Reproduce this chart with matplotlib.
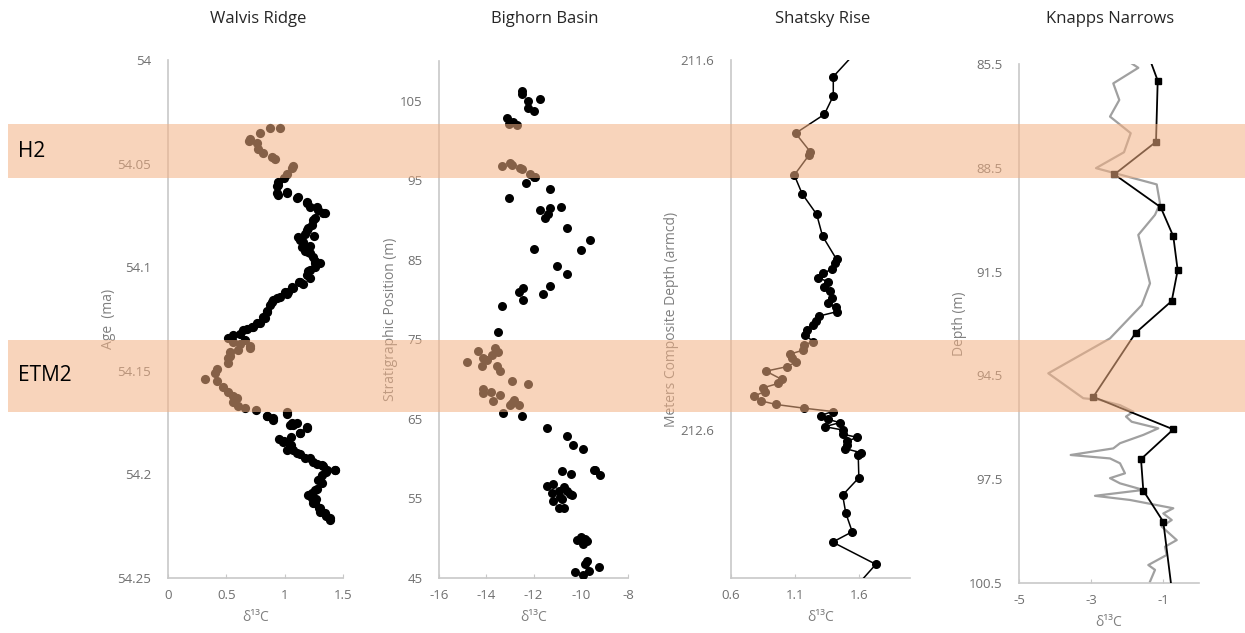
import numpy as np
import matplotlib
matplotlib.use("Agg")
import matplotlib.pyplot as plt
from matplotlib.patches import Rectangle
from matplotlib.ticker import FuncFormatter
from matplotlib.transforms import blended_transform_factory

plt.rcParams['font.family'] = ['Open Sans', 'DejaVu Sans']

# ---- data ----
walvis_d13c = [0.96, 0.87, 0.79, 0.70, 0.69, 0.76, 0.77, 0.81, 0.89, 0.92, 1.07, 1.06, 1.02, 0.99, 0.94,
               0.93, 0.93, 1.02, 1.11, 1.19, 1.28, 1.33, 1.24, 1.20, 1.17, 1.13, 1.22, 1.22, 1.26, 1.26,
               1.22, 1.16, 1.07, 1.02, 0.93, 0.89, 0.85, 0.81, 0.79, 0.73, 0.68, 0.62, 0.53, 0.56, 0.62,
               0.70, 0.60, 0.53, 0.51,
               0.66, 0.70, 0.53, 0.51, 0.42, 0.40, 0.32, 0.42, 0.47, 0.51, 0.56, 0.59, 0.56, 0.60, 0.66,
               0.75, 0.85, 0.90, 1.02, 1.06, 1.07, 1.19, 1.13, 1.05, 0.99, 1.05, 1.07, 1.13, 1.22, 1.28,
               1.33, 1.43, 1.35, 1.30, 1.32, 1.28, 1.23, 1.23, 1.24, 1.29, 1.30, 1.35, 1.39,
               1.17, 1.25, 1.30, 1.20, 1.12, 1.00, 0.95, 1.20, 1.27,
               0.945, 1.017, 0.945, 1.103, 1.189, 1.217, 1.288, 1.345, 1.260, 1.231, 1.189, 1.117,
               1.159, 1.146, 1.202, 1.245, 1.260, 1.217, 1.189, 1.131, 1.060, 1.031, 0.960, 0.902,
               0.874, 0.846, 0.831, 0.760, 0.717, 0.645, 0.560, 0.517,
               0.846, 0.902, 1.017, 1.045, 1.103, 1.189, 1.131, 0.988, 1.045, 1.017, 1.103, 1.174,
               1.245, 1.317, 1.360, 1.431, 1.288, 1.317, 1.260, 1.231, 1.260, 1.302, 1.345, 1.388]
walvis_age = [54.033, 54.033, 54.035, 54.038, 54.039, 54.040, 54.043, 54.045, 54.047, 54.048, 54.051,
              54.052, 54.055, 54.057, 54.059, 54.061, 54.064, 54.064, 54.066, 54.069, 54.071, 54.074,
              54.077, 54.081, 54.084, 54.087, 54.090, 54.093, 54.097, 54.100, 54.105, 54.108, 54.110,
              54.113, 54.115, 54.117, 54.121, 54.124, 54.127, 54.129, 54.130, 54.132, 54.134, 54.136,
              54.137, 54.138, 54.140, 54.141, 54.144,
              54.135, 54.139, 54.143, 54.146, 54.149, 54.151, 54.154, 54.155, 54.158, 54.160, 54.162,
              54.163, 54.165, 54.167, 54.168, 54.169, 54.172, 54.173, 54.170, 54.175, 54.176, 54.177,
              54.180, 54.182, 54.184, 54.186, 54.188, 54.190, 54.192, 54.195, 54.196, 54.198, 54.199,
              54.202, 54.204, 54.207, 54.209, 54.211, 54.214, 54.216, 54.218, 54.220, 54.222,
              54.092, 54.085, 54.098, 54.102, 54.107, 54.112, 54.183, 54.210, 54.212,
              54.0603, 54.0636, 54.0652, 54.0667, 54.0684, 54.0708, 54.0724, 54.0740, 54.0764,
              54.0796, 54.0820, 54.0853, 54.0877, 54.0901, 54.0925, 54.0949, 54.0981, 54.1014,
              54.1038, 54.1070, 54.1094, 54.1118, 54.1142, 54.1158, 54.1182, 54.1215, 54.1247,
              54.1271, 54.1287, 54.1303, 54.1327, 54.1343,
              54.1718, 54.1737, 54.1708, 54.1762, 54.1753, 54.1778, 54.1802, 54.1842, 54.1858,
              54.1882, 54.1898, 54.1922, 54.1939, 54.1955, 54.1979, 54.1979, 54.2027, 54.2003,
              54.2075, 54.2115, 54.2139, 54.2163, 54.2188, 54.2212]

bighorn_d13c = [-12.50, -12.47, -11.72, -12.22, -12.22, -12.00, -13.13, -12.85, -13.02, -12.71,
                -13.34, -12.99, -12.92, -12.57, -12.50, -12.14, -11.93, -12.00, -12.31, -11.30,
                -13.02, -11.72, -11.30, -11.51, -11.39, -10.83, -10.59, -9.60, -10.00, -12.00,
                -11.01, -10.59, -11.30, -12.43, -12.60, -11.61, -12.43, -13.32, -13.51,
                -14.33, -13.63, -13.49, -13.77, -14.12, -13.98, -14.83, -14.19, -13.53, -13.42,
                -12.92, -12.22, -14.12, -14.12, -13.81, -13.42, -13.70, -12.81, -12.92, -12.60,
                -12.99, -13.30, -12.50, -11.41, -10.59, -10.31, -9.89, -9.39, -9.18, -9.46,
                -10.80, -10.41, -11.44, -11.18, -11.22, -10.94, -10.73, -10.59, -10.45, -10.38,
                -10.87, -11.16, -10.80, -10.90, -10.70, -10.17, -10.00, -9.82, -9.91, -9.74,
                -9.72, -9.81, -9.21, -10.24, -9.67, -9.91]
bighorn_pos = [106.2, 105.9, 105.2, 105.0, 104.1, 103.7, 102.8, 102.3, 102.1, 102.0,
               96.8, 97.2, 96.9, 96.6, 96.4, 95.8, 95.4, 95.4, 94.7, 93.9,
               92.8, 91.3, 91.5, 90.3, 90.8, 91.7, 89.0, 87.5, 86.2, 86.4,
               84.2, 83.2, 81.7, 81.4, 80.9, 80.7, 80.0, 79.2, 75.9,
               73.6, 73.9, 73.4, 73.0, 72.7, 72.4, 72.2, 71.7, 71.6, 71.0,
               69.8, 69.4, 68.7, 68.2, 68.4, 68.0, 67.2, 67.4, 67.0, 66.7,
               66.7, 65.7, 65.4, 63.9, 62.8, 61.7, 61.2, 58.6, 57.9, 58.6,
               58.4, 58.1, 56.6, 56.8, 55.7, 56.0, 56.5, 56.0, 55.6, 55.4,
               55.2, 54.7, 54.9, 53.8, 53.8, 49.8, 50.1, 49.9, 49.3, 49.6,
               47.2, 46.8, 46.4, 45.7, 45.9, 45.4]

shatsky_d13c = [1.60, 1.40, 1.40, 1.33, 1.105, 1.22, 1.21, 1.095, 1.157, 1.27, 1.316, 1.426, 1.415,
                1.387, 1.321, 1.282, 1.36, 1.329, 1.373, 1.387, 1.36, 1.42, 1.43, 1.29, 1.264,
                1.243, 1.196, 1.178, 1.243, 1.17, 1.165, 1.061, 1.074, 1.105, 1.035, 0.873, 0.996,
                0.97, 0.852, 0.865, 0.782, 0.832, 0.952, 1.17, 1.395, 1.30, 1.355, 1.452, 1.334,
                1.473, 1.473, 1.587, 1.51, 1.505, 1.49, 1.613, 1.595, 1.60, 1.473, 1.498, 1.548,
                1.395, 1.733, 1.56]
shatsky_depth = [211.57, 211.645, 211.697, 211.747, 211.798, 211.848, 211.857, 211.911, 211.962,
                 212.017, 212.076, 212.139, 212.148, 212.166, 212.176, 212.189, 212.199, 212.213,
                 212.223, 212.244, 212.258, 212.268, 212.280, 212.292, 212.305, 212.316, 212.330,
                 212.343, 212.361, 212.370, 212.384, 212.395, 212.406, 212.417, 212.429, 212.441,
                 212.463, 212.474, 212.486, 212.496, 212.508, 212.521, 212.531, 212.541, 212.550,
                 212.561, 212.571, 212.580, 212.591, 212.600, 212.611, 212.620, 212.630, 212.641,
                 212.650, 212.661, 212.668, 212.729, 212.776, 212.825, 212.875, 212.903, 212.963,
                 213.03]

knapps_d13c = [-1.46, -1.147, -1.194, -2.35, -1.064, -0.714, -0.592, -0.758, -1.76, -2.936,
               -0.714, -1.611, -1.547, -0.992, -0.72]
knapps_depth = [85.10, 85.98, 87.75, 88.69, 89.64, 90.48, 91.46, 92.35, 93.27, 95.12,
                96.06, 96.92, 97.83, 98.73, 101.0]

knapps_hr_d13c = [-1.92, -1.686, -2.381, -2.214, -2.472, -1.897, -2.083, -2.861, -1.175, -1.083,
                  -1.222, -1.686, -1.361, -1.592, -2.472, -4.186, -3.214, -2.75, -2.194, -1.825,
                  -2.028, -1.869, -1.131, -1.547, -2.194, -2.381, -3.564, -2.472, -2.194, -2.056,
                  -2.472, -2.194, -1.547, -2.889, -1.917, -0.714, -0.992, -0.758, -1.036, -0.619,
                  -0.944, -0.897, -1.408, -1.222, -1.361]
knapps_hr_depth = [85.45, 85.61, 86.06, 86.54, 87.02, 87.50, 88.05, 88.51, 88.98, 89.53,
                   89.86, 90.44, 91.84, 92.47, 93.43, 94.44, 95.16, 95.21, 95.36, 95.55,
                   95.69, 95.84, 96.03, 96.22, 96.46, 96.61, 96.80, 96.90, 97.04, 97.33,
                   97.47, 97.62, 97.81, 97.98, 98.10, 98.34, 98.49, 98.68, 98.87, 99.26,
                   99.45, 99.69, 99.98, 100.12, 100.46]

# event bands, given as Walvis Ridge ages
h2_age = (54.031, 54.057)
etm2_age = (54.135, 54.170)

# ---- figure ----
W, H = 1245, 633
fig = plt.figure(figsize=(W / 100, H / 100), dpi=100)


def make_ax(l, r, t, b):
    return fig.add_axes([l / W, 1 - b / H, (r - l) / W, (b - t) / H])


tick_col = '#6f6f6f'
lab_col = '#7f7f7f'
spine_col = '#c8c8c8'
fmt = FuncFormatter(lambda v, p: f'{v:g}')

ax1 = make_ax(168, 343, 60, 578)
ax2 = make_ax(439, 628, 61, 578)
ax3 = make_ax(731, 910, 60, 578)
ax4 = make_ax(1019, 1199, 64, 583)

ax1.scatter(walvis_d13c, walvis_age, s=44, color='black', linewidths=0, zorder=3)
ax1.set_xlim(0, 1.5)
ax1.set_xticks([0, 0.5, 1, 1.5])
ax1.set_ylim(54.25, 54.0)
ax1.set_yticks([54.0, 54.05, 54.1, 54.15, 54.2, 54.25])

ax2.scatter(bighorn_d13c, bighorn_pos, s=42, color='black', linewidths=0, zorder=3)
ax2.set_xlim(-16, -8)
ax2.set_xticks([-16, -14, -12, -10, -8])
ax2.set_ylim(45, 110)
ax2.set_yticks([45, 55, 65, 75, 85, 95, 105])

ax3.plot(shatsky_d13c, shatsky_depth, color='black', lw=1.1, marker='o', ms=5.5, zorder=3)
ax3.set_xlim(0.6, 2.0)
ax3.set_xticks([0.6, 1.1, 1.6])
ax3.set_ylim(213.0, 211.6)
ax3.set_yticks([211.6, 212.6])

ax4.plot(knapps_hr_d13c, knapps_hr_depth, color='#a0a0a0', lw=1.6, zorder=2)
ax4.plot(knapps_d13c, knapps_depth, color='black', lw=1.3, marker='s', ms=5, zorder=3)
ax4.set_xlim(-5, 0)
ax4.set_xticks([-5, -3, -1])
ax4.set_ylim(100.5, 85.5)
ax4.set_yticks([85.5, 88.5, 91.5, 94.5, 97.5, 100.5])

titles = ['Walvis Ridge', 'Bighorn Basin', 'Shatsky Rise', 'Knapps Narrows']
title_x = [258, 545, 823, 1110]
ylabels = ['Age  (ma)', 'Stratigraphic Position (m)', 'Meters Composite Depth (armcd)', 'Depth (m)']
ylabel_x = [116, 398, 679, 967]
axes = [ax1, ax2, ax3, ax4]
lefts = [168, 439, 731, 1019]
widths = [175, 189, 179, 180]

for ax, t, tx, yl, yx, l, w in zip(axes, titles, title_x, ylabels, ylabel_x, lefts, widths):
    for s in ['top', 'right']:
        ax.spines[s].set_visible(False)
    for s in ['left', 'bottom']:
        ax.spines[s].set_color(spine_col)
        ax.spines[s].set_linewidth(1.2)
    ax.set_facecolor('none')
    ax.xaxis.set_major_formatter(fmt)
    ax.yaxis.set_major_formatter(fmt)
    ax.tick_params(axis='x', direction='in', length=3, color=spine_col, labelsize=9.5,
                   labelcolor=tick_col, pad=8)
    ax.tick_params(axis='y', length=0, labelsize=9.5, labelcolor=tick_col, pad=12)
    ax.set_ylabel(yl, fontsize=10, color=lab_col)
    ax.yaxis.set_label_coords((yx - l) / w, 0.5)
    ax.set_xlabel('δ¹³C', fontsize=10, color=lab_col)
    ax.xaxis.set_label_coords(0.5, -0.062)
    fig.text(tx / W, 1 - 19 / H, t, ha='center', va='center', fontsize=12, color='#262626')

# shaded event bands over the whole figure
band_tr = blended_transform_factory(fig.transFigure, ax1.transData)
for lo, hi in [h2_age, etm2_age]:
    rect = Rectangle((8 / W, hi), 1 - 8 / W, lo - hi, transform=band_tr,
                     facecolor='#f4b183', edgecolor='none', alpha=0.55, zorder=5)
    fig.add_artist(rect)

fig.text(18 / W, np.mean(h2_age), 'H2', transform=band_tr, fontsize=15, va='center', zorder=10)
fig.text(18 / W, np.mean(etm2_age), 'ETM2', transform=band_tr, fontsize=15, va='center', zorder=10)

fig.savefig('out.png', dpi=100)
